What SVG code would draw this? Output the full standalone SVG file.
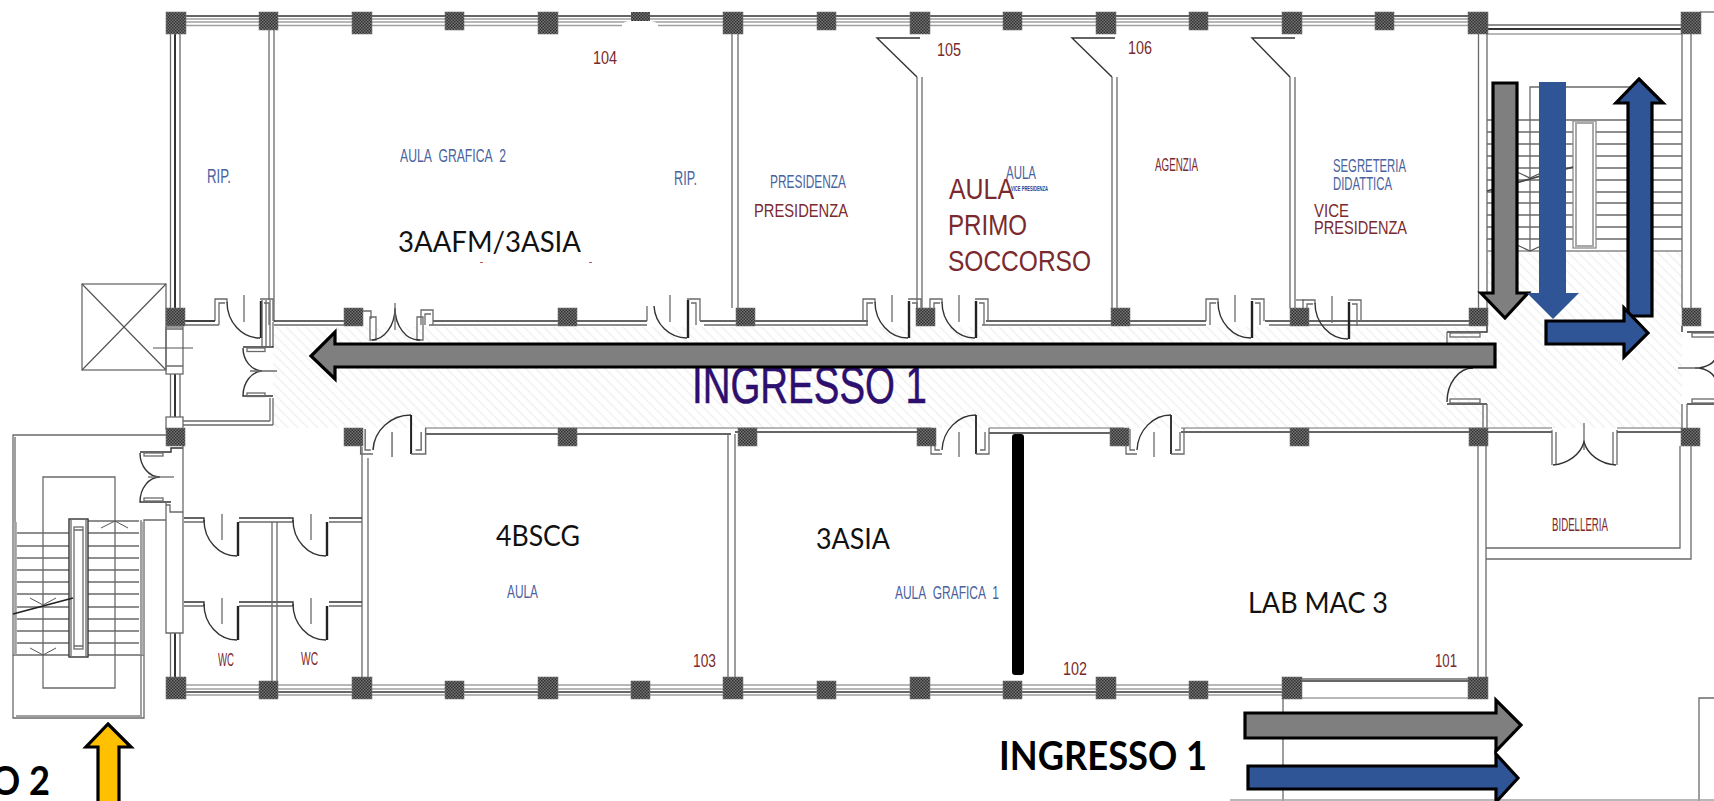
<svg xmlns="http://www.w3.org/2000/svg" width="1714" height="801" viewBox="0 0 1714 801">
<style>
text{font-family:"Liberation Sans",Arial,sans-serif}
.w{fill:none;stroke:#6a6a6a;stroke-width:1.3}
.l{fill:none;stroke:#a0a0a0;stroke-width:1.3}
.d{fill:none;stroke:#333;stroke-width:1.4}
.k{fill:none;stroke:#222;stroke-width:2.4}
.t{fill:none;stroke:#555;stroke-width:1.2}
.r{fill:#7a2a2e}
.b{fill:#4a63a0}
.c{font-family:Lato,"Liberation Sans",sans-serif;fill:#111}
.cb{font-family:Lato,"Liberation Sans",sans-serif;fill:#000;font-weight:700}
.ag{fill:#7f7f7f;stroke:#000;stroke-width:3.2}
.ab{fill:#2f5597;stroke:#000;stroke-width:3.2}
.an{fill:#2f5597}
</style>
<defs>
<pattern id="spk" width="3" height="3" patternUnits="userSpaceOnUse"><rect width="3" height="3" fill="#777"/><rect width="1.5" height="1.5" fill="#2e2e2e"/><rect x="1.5" y="1.5" width="1.5" height="1.5" fill="#2e2e2e"/></pattern>
<pattern id="hat" width="7" height="7" patternUnits="userSpaceOnUse" patternTransform="rotate(45)"><rect width="7" height="7" fill="#fff"/><rect width="7" height="1.4" fill="#f0f0f0"/></pattern>
<rect id="pt" width="20" height="22" fill="url(#spk)" stroke="#777" stroke-width=".6"/>
<rect id="ps" width="19" height="18" fill="url(#spk)" stroke="#777" stroke-width=".6"/>
<g id="dN">
<path class="w" d="M-12 21V-1H0V3M-8 25V3H-2"/>
<path class="d" d="M0 2A33 36 0 0 0 33 38"/>
<path class="k" d="M34 1V38"/>
<path class="w" d="M33 -1H46V21M37 3H42V25"/>
<path class="w" d="M17 -5V22"/>
</g>
<g id="dS">
<path class="w" d="M-11 -23V2H0M-7 -23V-2H-2"/>
<path class="d" d="M0 -2A34 37 0 0 1 34 -37"/>
<path class="k" d="M34 -37V2" style="stroke-width:1.8"/>
<path class="w" d="M34 2H47V-24M38 -2H43V-20"/>
<path class="w" d="M17 -20V5"/>
</g>
<g id="dW">
<path class="d" d="M0 0A33 36 0 0 0 33 36"/>
<path class="k" d="M34 2V36"/>
<path class="w" d="M18 -6V20"/>
</g>
<g id="chev"><path class="t" d="M-13 0L0 7L13 0" style="stroke-width:1"/></g>
</defs>

<rect width="1714" height="801" fill="#fff"/>

<g id="hatch">
<path fill="url(#hat)" d="M273 327H1487V251H1682V428H273Z"/>
</g>

<g id="outer-walls">
<path class="d" d="M185 16H1468"/><path class="l" d="M185 19H1468M185 22H1468M185 25.500H1468"/>
<path class="w" d="M1487 25H1681"/><path class="d" d="M1487 29H1681" style="stroke-width:2.2"/><path class="l" d="M1487 34H1681"/>
<path class="w" d="M1700 12H1714"/>
<path class="l" d="M185 685H1282M185 689H1282M185 695H1282"/><path class="d" d="M185 692H1282"/>
<path class="w" d="M1302 679H1468"/><path class="d" d="M1302 681H1468"/><path class="l" d="M1282 698H1468"/>
<path class="w" d="M1283 698V801M1699 801V698H1714"/><path class="l" d="M1230 800H1714"/>
<path class="w" d="M170.500 34V308M180 34V308"/><path class="d" d="M175 34V308" style="stroke-width:2"/>
<path class="w" d="M170.500 374V417M180 374V417"/><path class="d" d="M175 374V417" style="stroke-width:2"/>
<path class="w" d="M170.500 633V677M180 633V677"/><path class="d" d="M175 633V677" style="stroke-width:2"/>
<path class="w" d="M269 30V300M274 30V322"/>
<path class="w" d="M732 34V308M738 34V308"/>
<path class="w" d="M1478.500 34V308M1487 34V308M1682 34V308M1691 34V308"/>
</g>

<g id="north-wall">
<path class="d" d="M184 321H215M274 321H344M433 321H559M577 321H647M700 321H736M755 321H868M986 321H1111M1129 321H1206M1265 321H1290M1308 321H1469M1361 321H1469"/>
<path class="w" d="M184 325H219M274 325H344M429 325H647M704 325H868M982 325H1206M1269 325H1469"/>
<path class="w" d="M647 306V321"/>
<use href="#dN" x="227" y="300"/>
<use href="#dN" x="875" y="300"/>
<use href="#dN" x="942" y="300"/>
<use href="#dN" x="1218" y="300"/>
<use href="#dN" x="1315" y="301"/>
<path class="w" d="M1296 300H1304"/>
<path class="d" d="M654 306A33 34 0 0 0 687 338"/><path class="k" d="M688 300V338"/><path class="w" d="M687 299H700V321M691 303H696V325M670 295V322"/>
<path class="w" d="M363 311H371V319M370 317H376V340H370ZM417 317H423V340H417ZM421 325V310H433V325M425 325V314H431"/>
<path class="d" d="M372 340A24 32 0 0 0 395 308M420 340A24 32 0 0 1 395 308"/>
<path class="w" d="M395 303V330"/>
</g>

<g id="partitions">
<path class="d" d="M920 38H877L917 77"/><path class="w" d="M917 77V308M922 77V308"/>
<path class="d" d="M1115 38H1072L1112 77"/><path class="w" d="M1112 77V308M1117 77V308"/>
<path class="d" d="M1295 38H1252L1290 77"/><path class="w" d="M1290 77V308M1295 77V308"/>
</g>

<g id="stair-east">
<path class="w" d="M1487 120H1682M1487 132H1682M1487 144H1682M1487 156H1682M1487 168H1682M1487 180H1682M1487 192H1682M1487 203H1682M1487 215H1682M1487 227H1682M1487 239H1682"/>
<path class="d" d="M1487 251H1682" style="stroke:#888"/>
<path class="w" d="M1530 251V87H1638V251"/>
<rect x="1573" y="121" width="23" height="127" fill="#fff" stroke="#8a8a8a" stroke-width="1.300"/><rect x="1576" y="123" width="17" height="123" fill="#fff" stroke="#a8a8a8" stroke-width="2"/>
<path class="k" d="M1487 191L1573 167" style="stroke-width:1.8;stroke:#444"/>
<path class="t" d="M1517 172L1530 178L1543 172M1517 245L1530 251L1543 245"/>
</g>

<g id="junction">
<path class="d" d="M1447 332H1487V326M1447 404H1487"/><rect class="w" x="1450" y="333" width="30" height="4"/><rect class="w" x="1450" y="399" width="30" height="4"/>
<path class="w" d="M1447 332V345"/>
<path class="d" d="M1473 368A26 34 0 0 0 1447 402"/>
<path class="w" d="M1483 404V428M1487 404V428"/>
<path class="d" d="M1687 332H1714M1682 326V332M1687 404H1714"/><rect class="w" x="1692" y="333" width="24" height="4"/><rect class="w" x="1692" y="399" width="24" height="4"/>
<path class="d" d="M1716 355A20 13 0 0 1 1695 368A20 15 0 0 1 1716 383"/><path class="w" d="M1678 368H1700M1682 404V428M1687 404V428"/>
</g>

<g id="south-wall">
<path class="l" d="M425 428H931M989 428H1124M1181 428H1552M1617 428H1681"/>
<path class="d" d="M425 434H731M735 432H931M989 433H1110M1181 432H1469M1487 432H1552M1617 432H1681"/>
<use href="#dS" x="373" y="452" transform="translate(373 452) scale(1.12 1) translate(-373 -452)"/>
<use href="#dS" x="942" y="452"/>
<use href="#dS" x="1137" y="452"/>
<path class="w" d="M1552 430V465M1556 432V465M1613 432V465M1617 430V465M1584 423V450"/>
<path class="d" d="M1553 465A36 30 0 0 0 1584 442A36 30 0 0 0 1616 465"/>
<path class="w" d="M362 447V677M368 458V677M728 434V677M735 434V677"/>
<path class="w" d="M1478 446V677M1486 446V677M1486 548H1680V446M1486 559H1691V446"/>
</g>

<g id="lift-and-west">
<rect class="w" x="82" y="284" width="84" height="86"/><path class="t" d="M82 284L166 370M166 284L82 370"/>
<rect x="166" y="327" width="17" height="47" class="w" fill="#fff"/><path class="w" d="M166 329H183M166 366H183"/><path class="t" d="M153 348H193"/>
<rect x="166" y="417" width="17" height="12" class="w"/>
<path class="d" d="M184 321H215"/>
<path class="w" d="M262 300V346M266 300V346M270 300V346M273 322V346"/>
<path class="d" d="M243 347H273V346"/><rect class="w" x="247" y="348" width="18" height="3.500"/>
<path class="d" d="M243 348A20 23 0 0 0 262 371A20 25 0 0 0 243 396H273"/>
<rect class="w" x="247" y="393" width="18" height="3.500"/>
<path class="w" d="M250 371H277M270 398V421M273 398V425M183 421H270M183 425H273"/>
</g>

<g id="stair-west">
<path class="w" d="M166 435H13V718H144V520H166" /><path class="l" d="M15 437V522M141 520V716M16 716H142" style="stroke-width:2"/>
<path class="w" d="M43 655V477H115V688H43V655"/>
<path class="w" d="M17 533H69M88 533H139M17 546H69M88 546H139M17 558H69M88 558H139M17 570H69M88 570H139M17 582H69M88 582H139M17 594H69M88 594H139M17 607H69M88 607H139M17 619H69M88 619H139M17 631H69M88 631H139M17 643H69M88 643H139M13 655H69M88 655H144"/>
<path class="w" d="M88 521H139"/>
<path class="l" d="M15 522V655M16 522V655M141 522V655M143 522V655" style="stroke-width:1.6"/>
<rect x="69" y="519" width="19" height="138" fill="#fff" class="d"/><rect x="74" y="527" width="9" height="122" class="w"/><path class="w" d="M71 519V657M86 519V657M74 530H83M74 646H83"/>
<path class="k" d="M13 614L73 598" style="stroke-width:1.800"/>
<use href="#chev" x="43" y="598"/>
<use href="#chev" x="43" y="648"/>
<path class="t" d="M101 528L115 521L128 528" style="stroke-width:1"/>
<path class="d" d="M140 452H171V448H183"/><rect class="w" x="144" y="453" width="19" height="3"/>
<path class="d" d="M140 453A20 24 0 0 0 160 477A20 25 0 0 0 140 502H171"/><path class="w" d="M148 477H174"/>
<rect class="w" x="144" y="498" width="19" height="3"/>
<path class="w" d="M166 502V633H183V446M166 505H170V512H183"/>
</g>

<g id="wc">
<path class="d" d="M184 518H204V522M239 518H293V522M329 518H362"/><path class="w" d="M184 522H204M239 522H293M329 522H362"/>
<path class="d" d="M184 602H204V606M239 602H293V606M329 602H362"/><path class="w" d="M184 606H204M239 606H293M329 606H362"/>
<use href="#dW" x="204" y="520"/><use href="#dW" x="204" y="604"/><use href="#dW" x="293" y="520"/><use href="#dW" x="293" y="604"/>
<path class="w" d="M272 522V681M277 522V681"/>
</g>

<g id="pillars">
<use href="#pt" x="166" y="12"/><use href="#ps" x="259" y="12"/><use href="#pt" x="352" y="12"/><use href="#ps" x="445" y="12"/><use href="#pt" x="538" y="12"/><use href="#pt" x="723" y="12"/><use href="#ps" x="817" y="12"/><use href="#pt" x="910" y="12"/><use href="#ps" x="1003" y="12"/><use href="#pt" x="1096" y="12"/><use href="#ps" x="1189" y="12"/><use href="#pt" x="1282" y="12"/><use href="#ps" x="1375" y="12"/><use href="#pt" x="1468" y="12"/><use href="#pt" x="1681" y="12"/>
<rect x="631" y="12" width="19" height="9" fill="url(#spk)"/><path fill="#fff" d="M622 30V25Q624 21 630 21H650Q656 21 658 25V30Z"/>
<use href="#ps" x="166" y="308"/><use href="#ps" x="344" y="308"/><use href="#ps" x="558" y="308"/><use href="#ps" x="736" y="308"/><use href="#ps" x="916" y="308"/><use href="#ps" x="1111" y="308"/><use href="#ps" x="1290" y="308"/><use href="#ps" x="1469" y="308"/><use href="#ps" x="1682" y="308"/>
<use href="#ps" x="166" y="428"/><use href="#ps" x="344" y="428"/><use href="#ps" x="558" y="428"/><use href="#ps" x="738" y="428"/><use href="#ps" x="917" y="428"/><use href="#ps" x="1110" y="428"/><use href="#ps" x="1290" y="428"/><use href="#ps" x="1469" y="428"/><use href="#ps" x="1681" y="428"/>
<use href="#pt" x="166" y="677"/><use href="#ps" x="259" y="681"/><use href="#pt" x="352" y="677"/><use href="#ps" x="445" y="681"/><use href="#pt" x="538" y="677"/><use href="#ps" x="631" y="681"/><use href="#pt" x="723" y="677"/><use href="#ps" x="817" y="681"/><use href="#pt" x="910" y="677"/><use href="#ps" x="1003" y="681"/><use href="#pt" x="1096" y="677"/><use href="#ps" x="1189" y="681"/><use href="#pt" x="1282" y="677"/><use href="#pt" x="1468" y="677"/>
</g>

<g id="labels">
<text class="r" x="593" y="64" font-size="18" textLength="24" lengthAdjust="spacingAndGlyphs">104</text>
<text class="b" x="207" y="183" font-size="20" textLength="24" lengthAdjust="spacingAndGlyphs">RIP.</text>
<text class="b" x="400" y="162" font-size="19" word-spacing="6" textLength="106" lengthAdjust="spacingAndGlyphs">AULA GRAFICA 2</text>
<text class="b" x="674" y="185" font-size="20" textLength="23" lengthAdjust="spacingAndGlyphs">RIP.</text>
<text class="b" x="770" y="188" font-size="19" textLength="76" lengthAdjust="spacingAndGlyphs">PRESIDENZA</text>
<text class="r" x="754" y="217" font-size="18" textLength="94" lengthAdjust="spacingAndGlyphs">PRESIDENZA</text>
<text class="c" x="398" y="252" font-size="28" textLength="183" lengthAdjust="spacingAndGlyphs">3AAFM/3ASIA</text>
<rect x="480" y="262" width="3" height="1" fill="#b55"/><rect x="589" y="262" width="3" height="1" fill="#b55"/>
<text class="r" x="937" y="56" font-size="18" textLength="24" lengthAdjust="spacingAndGlyphs">105</text>
<text class="r" x="1128" y="54" font-size="18" textLength="24" lengthAdjust="spacingAndGlyphs">106</text>
<text class="b" x="1006" y="179" font-size="19" textLength="30" lengthAdjust="spacingAndGlyphs">AULA</text>
<text x="1011" y="191" font-size="7" font-weight="700" fill="#1f3f8f" textLength="37" lengthAdjust="spacingAndGlyphs">VICE PRESIDENZA</text>
<text class="r" x="949" y="199" font-size="30" textLength="65" lengthAdjust="spacingAndGlyphs">AULA</text>
<text class="r" x="948" y="235" font-size="30" textLength="79" lengthAdjust="spacingAndGlyphs">PRIMO</text>
<text class="r" x="948" y="271" font-size="30" textLength="143" lengthAdjust="spacingAndGlyphs">SOCCORSO</text>
<text class="r" x="1155" y="171" font-size="18" textLength="43" lengthAdjust="spacingAndGlyphs">AGENZIA</text>
<text class="b" x="1333" y="172" font-size="19" textLength="73" lengthAdjust="spacingAndGlyphs">SEGRETERIA</text>
<text class="b" x="1333" y="190" font-size="19" textLength="59" lengthAdjust="spacingAndGlyphs">DIDATTICA</text>
<text class="r" x="1314" y="217" font-size="18" textLength="35" lengthAdjust="spacingAndGlyphs">VICE</text>
<text class="r" x="1314" y="234" font-size="18" textLength="93" lengthAdjust="spacingAndGlyphs">PRESIDENZA</text>
<text x="692" y="403" font-size="52" fill="#2c0f6e" stroke="#2c0f6e" stroke-width=".5" textLength="235" lengthAdjust="spacingAndGlyphs">INGRESSO 1</text>
<text class="c" x="496" y="546" font-size="28" textLength="84" lengthAdjust="spacingAndGlyphs">4BSCG</text>
<text class="b" x="507" y="598" font-size="18" textLength="31" lengthAdjust="spacingAndGlyphs">AULA</text>
<text class="r" x="218" y="666" font-size="18" textLength="16" lengthAdjust="spacingAndGlyphs">WC</text>
<text class="r" x="301" y="665" font-size="18" textLength="17" lengthAdjust="spacingAndGlyphs">WC</text>
<text class="r" x="693" y="667" font-size="18" textLength="23" lengthAdjust="spacingAndGlyphs">103</text>
<text class="c" x="816" y="549" font-size="28" textLength="74" lengthAdjust="spacingAndGlyphs">3ASIA</text>
<text class="b" x="895" y="599" font-size="19" word-spacing="6" textLength="104" lengthAdjust="spacingAndGlyphs">AULA GRAFICA 1</text>
<text class="c" x="1248" y="613" font-size="28" textLength="140" lengthAdjust="spacingAndGlyphs">LAB MAC 3</text>
<text class="r" x="1063" y="675" font-size="18" textLength="24" lengthAdjust="spacingAndGlyphs">102</text>
<text class="r" x="1435" y="667" font-size="18" textLength="22" lengthAdjust="spacingAndGlyphs">101</text>
<text class="r" x="1552" y="531" font-size="18" textLength="56" lengthAdjust="spacingAndGlyphs">BIDELLERIA</text>
<text class="cb" x="-9" y="795" font-size="40" textLength="59" lengthAdjust="spacingAndGlyphs">O 2</text>
<text class="cb" x="999" y="770" font-size="40" textLength="208" lengthAdjust="spacingAndGlyphs">INGRESSO 1</text>
</g>

<g id="connectors">
<path class="ag" d="M1495 344V367H335V379L311 356L335 332V344Z"/>
<path class="ag" d="M1493 83H1517V293H1528L1505 318L1481 293H1493Z"/>
<path class="an" d="M1539 82H1566V293H1579L1553 319L1527 293H1539Z"/>
<path class="ab" d="M1639 79L1663 103H1652V316H1628V103H1616Z"/>
<path class="ab" d="M1546 321H1624V308L1648 333L1624 357V344H1546Z"/>
<path class="ag" d="M1245 713H1496V700L1521 725L1496 751V738H1245Z"/>
<path class="ab" d="M1248 766H1496V754L1518 778L1496 802V789H1248Z"/>
<path fill="#ffc000" stroke="#000" stroke-width="3.200" d="M108 724L131 747H119V803H98V747H86Z"/>
<rect x="1013" y="435" width="10" height="239" rx="2" fill="#000" stroke="#000" stroke-width="2"/>
</g>
</svg>
